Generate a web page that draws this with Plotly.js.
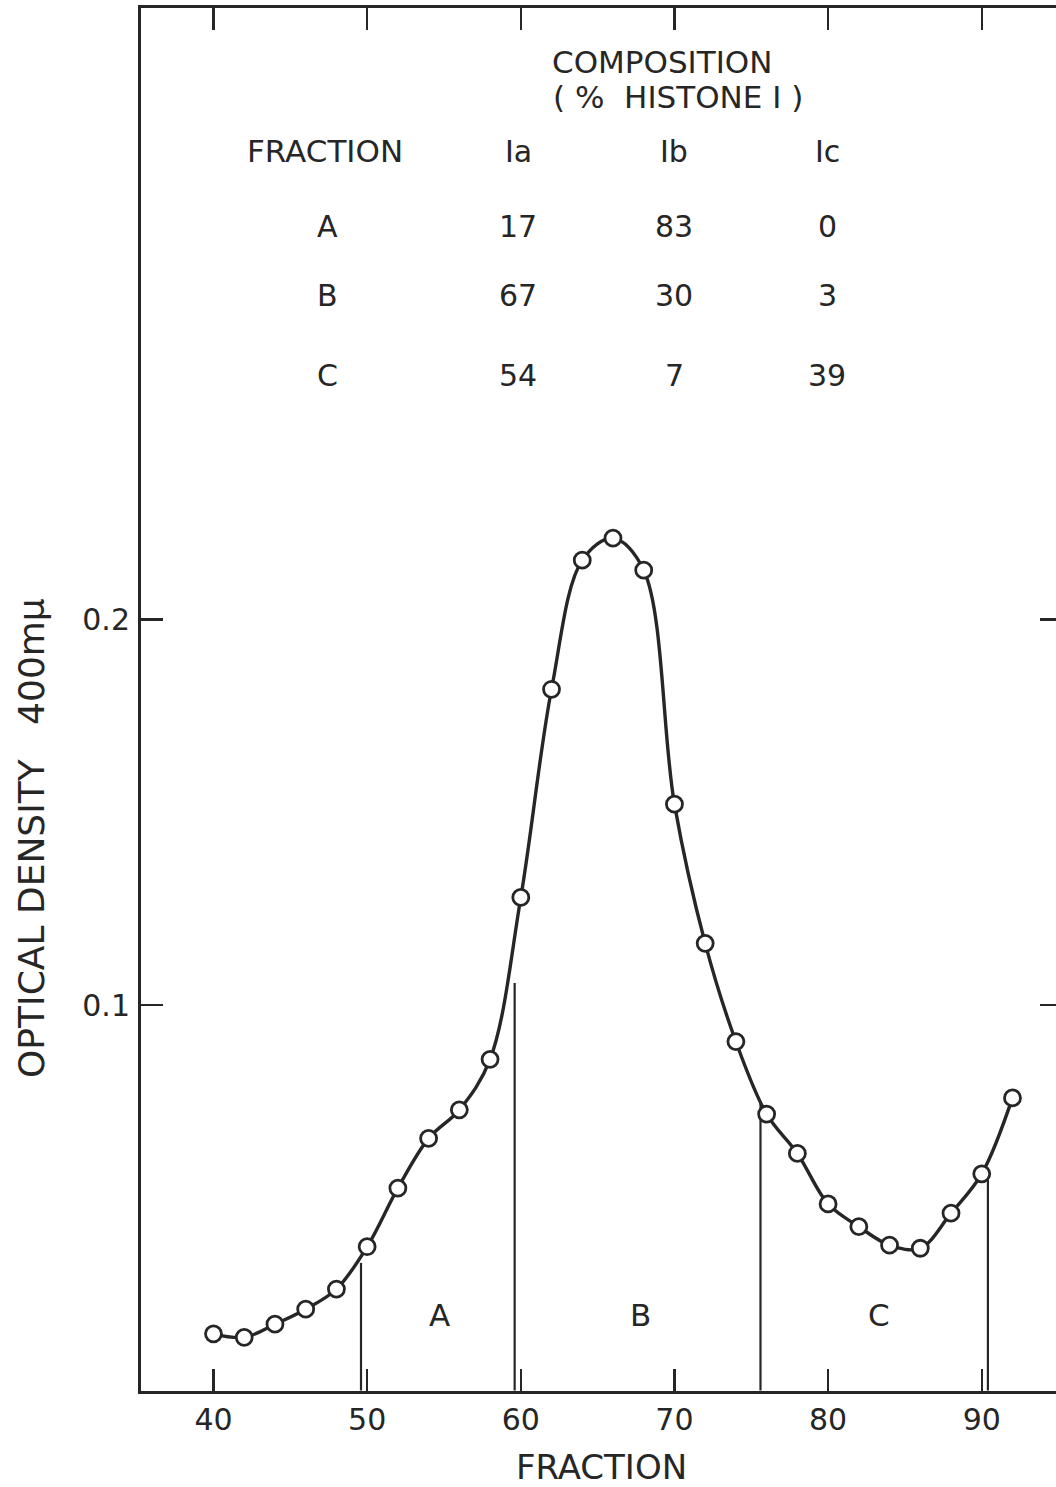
<!DOCTYPE html>
<html>
<head>
<meta charset="utf-8">
<script src="https://cdn.plot.ly/plotly-3.0.1.min.js"></script>
<style>
  html, body { margin: 0; padding: 0; background: #fff; overflow: hidden; width: 1056px; height: 1487px; }
  #chart { width: 1070px; height: 1487px; }
</style>
</head>
<body>
<div id="chart"></div>
<script>
// Fraction number of each measured tube
const fractions = [40, 42, 44, 46, 48, 50, 52, 54, 56, 58, 60, 62, 64, 66, 68, 70, 72, 74, 76, 78, 80, 82, 84, 86, 88, 90, 92];
// Optical density at 400 mμ
const density = [0.0147, 0.0138, 0.0172, 0.0211, 0.0263, 0.0373, 0.0525, 0.0654, 0.0728, 0.0859,
                 0.1279, 0.1819, 0.2154, 0.2211, 0.2128, 0.1521, 0.1160, 0.0905, 0.0717, 0.0615,
                 0.0484, 0.0425, 0.0377, 0.0369, 0.0460, 0.0562, 0.0759];
// Pool boundaries (vertical dividers) and the curve height where each meets the curve
const dividerX = [49.6, 59.6, 75.6, 90.4];
const dividerTop = [0.0331, 0.1057, 0.0746, 0.0546];
// Pool labels
const poolNames = ['A', 'B', 'C'];
const poolLabelX = [54.7, 67.8, 83.3];
const poolLabelY = 0.0195;
// Composition table (% histone I)
const tableHeaders = ['FRACTION', 'Ia', 'Ib', 'Ic'];
const tableRows = ['A', 'B', 'C'];
const pctIa = [17, 67, 54];
const pctIb = [83, 30, 7];
const pctIc = [0, 3, 39];
// Axis ticks
const xTicks = [40, 50, 60, 70, 80, 90];
const yTicks = [0.1, 0.2];
const yTickText = ['0.1', '0.2'];

const ink = '#262626';
const FONT = 'DejaVu Sans, Liberation Sans, sans-serif';

// pixel -> data helpers for placing text (layout only)
const PX0 = 213.5, PXS = 15.365;           // x: 40 at 213.5 px
const PY0 = 1390.5, PYS = 3855;            // y: 0 at 1390.5 px
const xd = px => 40 + (px - PX0) / PXS;
const yd = py => (PY0 - py) / PYS;

// divider segments
const dvx = [], dvy = [];
dividerX.forEach((x, i) => { dvx.push(x, x, null); dvy.push(0, dividerTop[i], null); });

const traces = [
  {
    x: dvx, y: dvy, mode: 'lines', type: 'scatter',
    line: { color: ink, width: 2.2 }, hoverinfo: 'skip', showlegend: false
  },
  {
    x: fractions, y: density, mode: 'lines+markers', type: 'scatter',
    line: { color: ink, width: 3.4, shape: 'spline', smoothing: 1 },
    marker: { symbol: 'circle', size: 16, color: '#ffffff', line: { color: ink, width: 2.8 } },
    showlegend: false
  }
];

const colPx = [325, 518, 674, 827];
const headerPy = 151;
const rowPy = [226, 295, 375];
const annotations = [];
function txt(text, px, py, size) {
  annotations.push({
    x: xd(px), y: yd(py), xref: 'x', yref: 'y', text: text, showarrow: false,
    xanchor: 'center', yanchor: 'middle', font: { family: FONT, size: size || 30, color: ink }
  });
}
txt('COMPOSITION', 662, 62, 31);
txt('( %\u00A0\u00A0HISTONE I )', 678, 97, 31);
tableHeaders.forEach((h, i) => txt(h, colPx[i], headerPy, i === 0 ? 31 : 30));
tableRows.forEach((r, i) => {
  txt(r, colPx[0] + 2, rowPy[i]);
  txt(String(pctIa[i]), colPx[1], rowPy[i]);
  txt(String(pctIb[i]), colPx[2], rowPy[i]);
  txt(String(pctIc[i]), colPx[3], rowPy[i]);
});
poolNames.forEach((n, i) => annotations.push({
  x: poolLabelX[i], y: poolLabelY, xref: 'x', yref: 'y', text: n, showarrow: false,
  xanchor: 'center', yanchor: 'middle', font: { family: FONT, size: 31, color: ink }
}));
// y axis title placed like the original (below centre)
annotations.push({
  xref: 'paper', yref: 'paper', x: (31 - 141) / 921, y: (1391 - 838) / 1383,
  text: 'OPTICAL DENSITY\u00A0\u00A0\u00A0400mμ', textangle: -90, showarrow: false,
  xanchor: 'center', yanchor: 'middle', font: { family: FONT, size: 36, color: ink }
});

const layout = {
  width: 1070, height: 1487,
  margin: { l: 141, r: 8, t: 8, b: 96 },
  paper_bgcolor: '#ffffff', plot_bgcolor: '#ffffff',
  font: { family: FONT, color: ink },
  xaxis: {
    range: [xd(141), xd(1062)],
    tickvals: xTicks, ticks: 'inside', ticklen: 22, tickwidth: 2.5, tickcolor: ink,
    showline: true, linecolor: ink, linewidth: 3, mirror: 'ticks',
    showgrid: false, zeroline: false,
    tickfont: { family: FONT, size: 30, color: ink }, ticklabelstandoff: 0,
    title: { text: 'FRACTION', font: { family: FONT, size: 34, color: ink }, standoff: 25 }
  },
  yaxis: {
    range: [yd(1391), yd(8)],
    tickvals: yTicks, ticktext: yTickText, ticks: 'inside', ticklen: 22, tickwidth: 2.5, tickcolor: ink,
    showline: true, linecolor: ink, linewidth: 3, mirror: 'ticks',
    showgrid: false, zeroline: false,
    tickfont: { family: FONT, size: 30, color: ink }, ticklabelstandoff: 2
  },
  annotations: annotations,
  showlegend: false
};

Plotly.newPlot('chart', traces, layout, { displayModeBar: false, staticPlot: true });
</script>
</body>
</html>
